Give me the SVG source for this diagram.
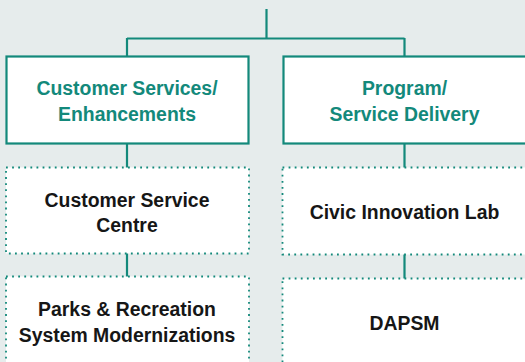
<svg xmlns="http://www.w3.org/2000/svg" width="525" height="362" viewBox="0 0 525 362">
<style>
.bg{fill:#e6ecec}
.solid{fill:#ffffff;stroke:#13897b;stroke-width:2.2}
.dot{fill:#ffffff;stroke:#13897b;stroke-width:1.8;stroke-dasharray:1.8 4.3}
.ln{stroke:#13897b;stroke-width:2.2;fill:none}
.h{font-family:"Liberation Sans",Arial,sans-serif;font-weight:bold;font-size:19.4px;fill:#13897b;text-anchor:middle}
.t{font-family:"Liberation Sans",Arial,sans-serif;font-weight:bold;font-size:19.4px;fill:#161616;text-anchor:middle}
</style>
<rect class="bg" x="0" y="0" width="525" height="362"/>
<g id="connectors">
<path class="ln" d="M266.5 9 V38.5 M127 38.5 H404.5 M127 38 V57 M404.5 38 V57"/>
<path class="ln" d="M127 143 V168 M404.5 143 V168"/>
<path class="ln" d="M127 253 V277 M404.5 254 V279"/>
</g>
<g id="n1">
<rect class="solid" x="6.5" y="56.5" width="242" height="87"/>
<text class="h" x="127" y="94.5">Customer Services/</text>
<text class="h" x="127" y="120.5">Enhancements</text>
</g>
<g id="n2">
<rect class="solid" x="283.5" y="56.5" width="250" height="87"/>
<text class="h" x="404.5" y="94.5">Program/</text>
<text class="h" x="404.5" y="120.5">Service Delivery</text>
</g>
<g id="n3">
<rect class="dot" x="6" y="167.5" width="243" height="86"/>
<text class="t" x="127" y="206.5">Customer Service</text>
<text class="t" x="127" y="231.5">Centre</text>
</g>
<g id="n4">
<rect class="dot" x="282.5" y="167.5" width="250" height="87"/>
<text class="t" x="404.5" y="219">Civic Innovation Lab</text>
</g>
<g id="n5">
<rect class="dot" x="6" y="276.5" width="243" height="100"/>
<text class="t" x="127" y="316">Parks &amp; Recreation</text>
<text class="t" x="127" y="341.5">System Modernizations</text>
</g>
<g id="n6">
<rect class="dot" x="282.5" y="278.5" width="250" height="100"/>
<text class="t" x="404.5" y="330">DAPSM</text>
</g>
</svg>
